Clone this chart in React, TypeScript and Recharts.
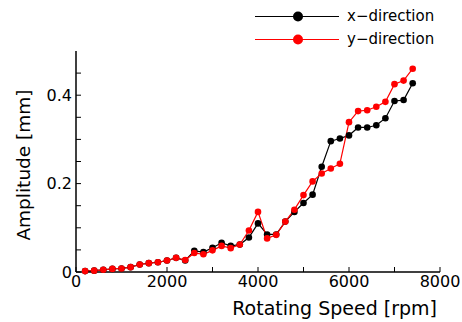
import { LineChart, Line, XAxis, YAxis, Legend } from "recharts";

const FONT = "'DejaVu Sans', sans-serif";

// rotating speed [rpm]
const speeds = [
  200, 400, 600, 800, 1000, 1200, 1400, 1600, 1800, 2000, 2200, 2400, 2600,
  2800, 3000, 3200, 3400, 3600, 3800, 4000, 4200, 4400, 4600, 4800, 5000,
  5200, 5400, 5600, 5800, 6000, 6200, 6400, 6600, 6800, 7000, 7200, 7400,
];

// amplitude [mm]
const xDirection = [
  0.002, 0.003, 0.005, 0.007, 0.008, 0.011, 0.017, 0.02, 0.022, 0.026, 0.032,
  0.026, 0.048, 0.045, 0.055, 0.066, 0.059, 0.062, 0.078, 0.11, 0.085, 0.085,
  0.114, 0.136, 0.156, 0.175, 0.238, 0.296, 0.302, 0.309, 0.327, 0.327, 0.332,
  0.348, 0.387, 0.389, 0.427,
];
const yDirection = [
  0.002, 0.003, 0.005, 0.007, 0.008, 0.011, 0.017, 0.02, 0.022, 0.026, 0.032,
  0.027, 0.043, 0.04, 0.049, 0.059, 0.054, 0.062, 0.094, 0.136, 0.076, 0.084,
  0.114, 0.141, 0.174, 0.205, 0.223, 0.234, 0.245, 0.339, 0.364, 0.366, 0.374,
  0.385, 0.425, 0.433, 0.46,
];

const speedTicks = [0, 1000, 2000, 3000, 4000, 5000, 6000, 7000, 8000];
const speedLabels = [0, 2000, 4000, 6000, 8000];
const amplitudeTicks = [0, 0.05, 0.1, 0.15, 0.2, 0.25, 0.3, 0.35, 0.4, 0.45];
const amplitudeLabels = [0, 0.2, 0.4];

const series = [
  { key: "x", name: "x\u2212direction", color: "#000000" },
  { key: "y", name: "y\u2212direction", color: "#ff0000" },
];

const data = speeds.map((s, i) => ({ speed: s, x: xDirection[i], y: yDirection[i] }));

const tickStyle = { fontFamily: FONT, fontSize: 16, fill: "#000" };
const axisLine = { stroke: "#000", strokeWidth: 1.5 };
const tickLine = { stroke: "#000", strokeWidth: 1 };

function LegendBox() {
  return (
    <div style={{ fontFamily: FONT, fontSize: 15, color: "#000" }}>
      {series.map((s) => (
        <div key={s.key} style={{ display: "flex", alignItems: "center", height: 23 }}>
          <svg width={84} height={23}>
            <line x1={0} x2={84} y1={11.5} y2={11.5} stroke={s.color} strokeWidth={1.2} />
            <circle cx={43} cy={11.5} r={5} fill={s.color} />
          </svg>
          <span style={{ marginLeft: 8, lineHeight: "23px" }}>{s.name}</span>
        </div>
      ))}
    </div>
  );
}

export default function App() {
  return (
    <div style={{ position: "absolute", left: 0, top: 0 }}>
      <LineChart
        width={462}
        height={322}
        data={data}
        margin={{ top: 51, right: 22, bottom: 0, left: 0 }}
      >
        <XAxis
          dataKey="speed"
          type="number"
          domain={[0, 8000]}
          ticks={speedTicks}
          tickFormatter={(v: number) => (speedLabels.includes(v) ? String(v) : "")}
          tick={tickStyle}
          tickSize={-5}
          tickMargin={9}
          axisLine={axisLine}
          tickLine={tickLine}
          height={50}
          interval={0}
          label={({ viewBox }: any) => (
            <text
              x={viewBox.x + viewBox.width - 3}
              y={viewBox.y + viewBox.height - 7}
              textAnchor="end"
              fontFamily={FONT}
              fontSize={19}
              fill="#000"
            >
              Rotating Speed [rpm]
            </text>
          )}
        />
        <XAxis
          xAxisId="top"
          orientation="top"
          dataKey="speed"
          type="number"
          domain={[0, 8000]}
          ticks={speedTicks}
          tickFormatter={() => ""}
          tickSize={-5}
          axisLine={axisLine}
          tickLine={tickLine}
          height={0}
          interval={0}
        />
        <YAxis
          type="number"
          domain={[0, 0.5]}
          ticks={amplitudeTicks}
          tickFormatter={(v: number) => (amplitudeLabels.includes(v) ? String(v) : "")}
          tick={tickStyle}
          tickSize={-5}
          tickMargin={9}
          axisLine={axisLine}
          tickLine={tickLine}
          width={76}
          interval={0}
          label={({ viewBox }: any) => (
            <text
              x={29.5}
              y={165}
              transform="rotate(-90, 29.5, 165)"
              textAnchor="middle"
              fontFamily={FONT}
              fontSize={18.5}
              fill="#000"
            >
              Amplitude [mm]
            </text>
          )}
        />
        <YAxis
          yAxisId="right"
          orientation="right"
          type="number"
          domain={[0, 0.5]}
          ticks={amplitudeTicks}
          tickFormatter={() => ""}
          tickSize={-5}
          axisLine={axisLine}
          tickLine={tickLine}
          width={0}
          interval={0}
        />
        <Legend
          layout="vertical"
          align="center"
          verticalAlign="middle"
          content={() => <LegendBox />}
          wrapperStyle={{ position: "absolute", top: 4.5, left: 255, width: "auto", margin: 0 }}
        />
        {series.map((s) => (
          <Line
            key={s.key}
            dataKey={s.key}
            name={s.name}
            type="linear"
            stroke={s.color}
            strokeWidth={1.2}
            dot={{ r: 3.3, fill: s.color, stroke: "none" }}
            activeDot={false}
            isAnimationActive={false}
          />
        ))}
      </LineChart>
    </div>
  );
}
